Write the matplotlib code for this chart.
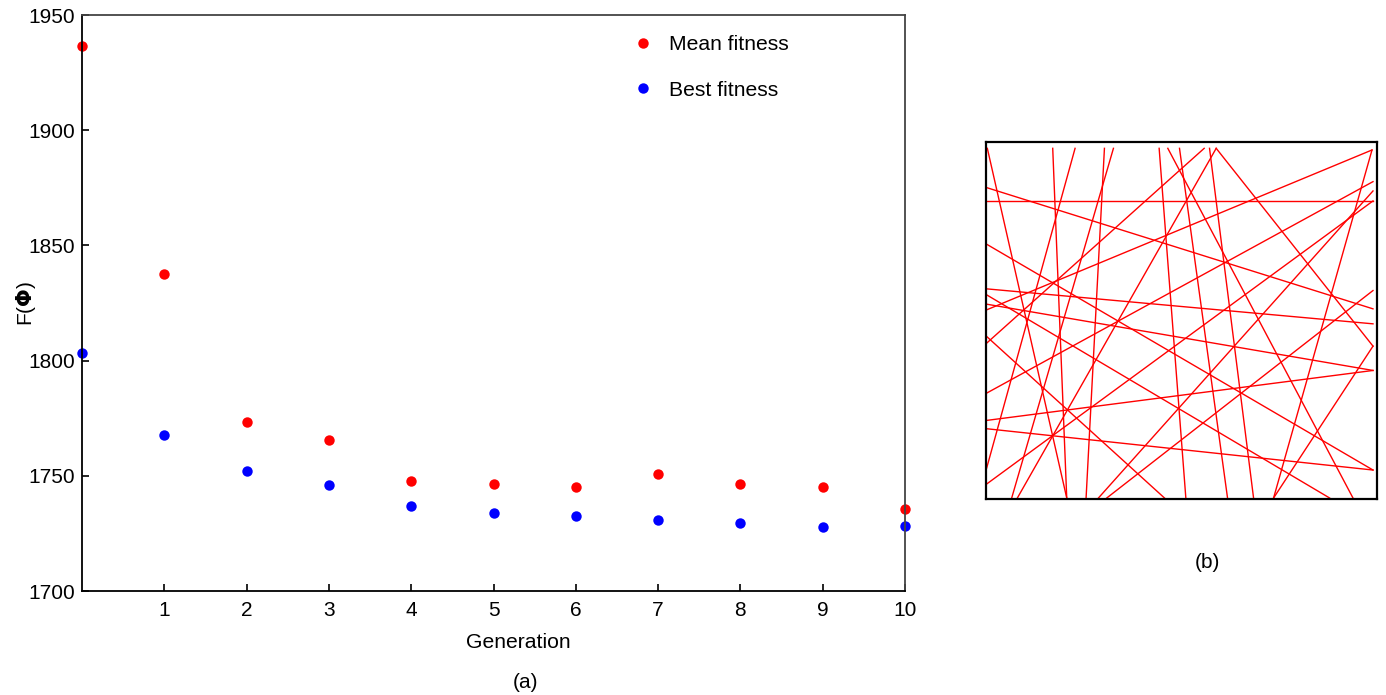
import numpy as np
import matplotlib
matplotlib.use('Agg')
import matplotlib.pyplot as plt

plt.rcParams['font.family'] = ['Liberation Sans', 'DejaVu Sans']
plt.rcParams['mathtext.fontset'] = 'dejavusans'

# (a) fitness per generation
generation = [0, 1, 2, 3, 4, 5, 6, 7, 8, 9, 10]
mean_fitness = [1936.5, 1837.8, 1773.2, 1765.4, 1747.7, 1746.4, 1745.0, 1750.6, 1746.4, 1745.0, 1735.4]
best_fitness = [1803.5, 1767.6, 1752.3, 1745.8, 1736.8, 1734.0, 1732.5, 1731.0, 1729.5, 1727.6, 1728.2]
yticks = [1700, 1750, 1800, 1850, 1900, 1950]
xticks = [1, 2, 3, 4, 5, 6, 7, 8, 9, 10]

# (b) line segments (panel units, y measured downwards)
seg_x0 = [20, 1175, 1175, 22, 218, 285, 373, 400, 708, 672, 688, 708, 537, 563,
          598, 1178, 1178, 1178, 20, 20, 20, 20, 20, 20, 20, 20, 1178, 20]
seg_y0 = [198, 45, 45, 40, 40, 40, 40, 40, 40, 40, 40, 40, 40, 40,
          40, 140, 168, 467, 158, 462, 508, 857, 882, 328, 480, 605, 634, 1048]
seg_x1 = [1178, 20, 880, 260, 260, 20, 318, 95, 112, 20, 820, 1178, 617, 1118,
          742, 20, 355, 380, 1178, 1178, 1178, 1178, 1178, 1178, 1048, 553, 880, 1178]
seg_y1 = [198, 525, 1090, 1090, 1090, 1000, 1090, 1090, 1090, 625, 1090, 634, 1090, 1090,
          1090, 775, 1090, 1090, 522, 567, 707, 707, 1006, 1006, 1090, 1090, 1090, 198]

W, H = 1386, 695
fig = plt.figure(figsize=(W / 100, H / 100), dpi=100)

# ---- left panel
ax = fig.add_axes([82 / W, (H - 591) / H, 823 / W, 576 / H])
ax.plot(generation, mean_fitness, 'o', color='#ff0000', markersize=7.5, markeredgewidth=0,
        clip_on=False, label='Mean fitness')
ax.plot(generation, best_fitness, 'o', color='#0000ff', markersize=7.5, markeredgewidth=0,
        clip_on=False, label='Best fitness')
ax.set_xlim(0, 10)
ax.set_ylim(1700, 1950)
ax.set_xticks(xticks)
ax.set_yticks(yticks)
ax.tick_params(direction='in', length=5, width=1.2, labelsize=15, pad=7)
ax.tick_params(axis='y', pad=5)
for s in ['left', 'bottom']:
    ax.spines[s].set_color('black')
    ax.spines[s].set_linewidth(1.3)
for s in ['top', 'right']:
    ax.spines[s].set_color('#444444')
    ax.spines[s].set_linewidth(1.3)
ax.legend(loc='upper left', bbox_to_anchor=(624 / W, 1 - 27 / H), bbox_transform=fig.transFigure,
          frameon=False, numpoints=1, fontsize=15.2, handlelength=1.0, handletextpad=0.75,
          labelspacing=1.25, borderaxespad=0)
fig.text(26 / W, 1 - 303 / H, r'F($\mathbf{\Phi}$)', rotation=90, ha='center', va='center', fontsize=15)
fig.text(518 / W, 1 - 643 / H, 'Generation', ha='center', va='center', fontsize=15.2)
fig.text(525 / W, 1 - 683 / H, '(a)', ha='center', va='center', fontsize=15)

# ---- right panel
bx = fig.add_axes([986 / W, (H - 499) / H, 391 / W, 357 / H])
for x0, y0, x1, y1 in zip(seg_x0, seg_y0, seg_x1, seg_y1):
    bx.plot([x0, x1], [y0, y1], color='#ff0000', linewidth=1.0)
bx.set_xlim(18, 1190)
bx.set_ylim(1093, 21)
bx.set_xticks([])
bx.set_yticks([])
for s in bx.spines.values():
    s.set_linewidth(1.6)
    s.set_color('black')
fig.text(1207 / W, 1 - 563 / H, '(b)', ha='center', va='center', fontsize=15)

fig.savefig('out.png', dpi=100)
